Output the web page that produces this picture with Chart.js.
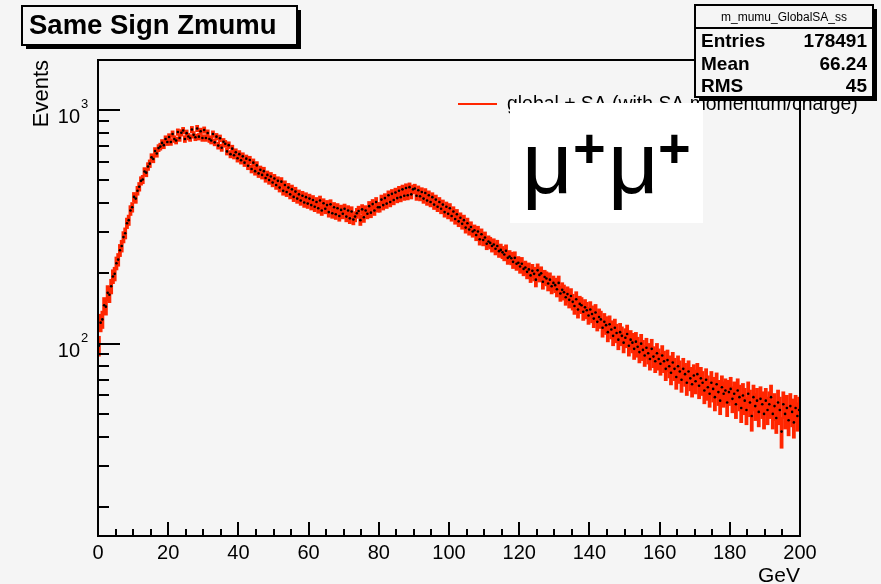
<!DOCTYPE html>
<html>
<head>
<meta charset="utf-8">
<script src="https://cdn.jsdelivr.net/npm/chart.js@4.4.1/dist/chart.umd.min.js"></script>
<style>
  html, body { margin: 0; padding: 0; background: #f5f5f5; }
  canvas { display: block; }
</style>
</head>
<body>
<canvas id="zmumu" width="881" height="584"></canvas>
<script>
// histogram m_mumu_GlobalSA_ss : 400 bins of 0.5 GeV from 0 to 200
const binWidth = 0.5;
const counts = [
  98, 123, 127, 146, 144, 165, 162, 176, 194, 199, 221, 229, 251, 262, 286, 297, 328, 338, 372, 384,
  425, 418, 452, 470, 498, 505, 546, 540, 574, 590, 628, 618, 668, 652, 688, 698, 724, 708, 752, 730,
  768, 731, 790, 752, 741, 806, 760, 800, 818, 752, 797, 771, 760, 826, 784, 765, 835, 770, 812, 760,
  822, 760, 798, 752, 741, 790, 728, 770, 705, 758, 690, 732, 718, 666, 708, 648, 684, 641, 660, 622,
  648, 610, 634, 596, 620, 578, 612, 560, 596, 548, 580, 536, 555, 528, 548, 512, 528, 502, 520, 490,
  510, 478, 498, 466, 494, 452, 478, 446, 466, 436, 458, 425, 448, 418, 436, 410, 430, 402, 424, 398,
  418, 392, 412, 386, 404, 380, 410, 372, 399, 378, 392, 366, 395, 362, 384, 358, 380, 352, 374, 360,
  378, 350, 372, 344, 368, 340, 350, 362, 370, 338, 376, 348, 372, 360, 388, 364, 396, 372, 404, 384,
  384, 414, 392, 420, 398, 432, 404, 438, 412, 444, 420, 452, 424, 458, 430, 464, 432, 468, 436, 458,
  462, 430, 454, 428, 446, 418, 442, 410, 432, 404, 424, 394, 414, 386, 404, 378, 394, 366, 386, 360,
  380, 352, 368, 342, 358, 334, 346, 326, 338, 314, 328, 308, 316, 302, 306, 292, 302, 280, 294, 278,
  285, 268, 274, 270, 262, 266, 255, 262, 249, 252, 246, 241, 250, 233, 236, 232, 224, 233, 220, 222,
  214, 220, 209, 212, 203, 208, 196, 205, 199, 188, 206, 197, 200, 184, 193, 190, 181, 188, 176, 182,
  178, 171, 182, 164, 170, 166, 158, 163, 154, 160, 151, 145, 155, 140, 148, 146, 137, 143, 139, 132,
  140, 134, 128, 136, 124, 130, 127, 117, 124, 120, 112, 121, 115, 108, 117, 111, 104, 112, 108, 101,
  106, 110, 98, 104, 101, 95, 102, 97, 92, 100, 94, 89, 96, 91, 86, 95, 88, 84, 91, 86,
  82, 89, 84, 78, 85, 80, 75, 83, 78, 72, 80, 76, 70, 78, 74, 68, 76, 71, 67, 73,
  69, 74, 66, 71, 68, 63, 70, 65, 61, 68, 64, 59, 67, 62, 57, 65, 61, 63, 56, 62,
  64, 58, 61, 55, 63, 59, 53, 60, 57, 52, 61, 56, 49, 59, 54, 57, 51, 58, 55, 50,
  57, 52, 55, 59, 50, 54, 48, 56, 52, 42, 55, 50, 53, 47, 54, 51, 46, 53, 49, 52
];
const centers = counts.map((c, i) => (i + 0.5) * binWidth);

const xMajorTicks = [0, 20, 40, 60, 80, 100, 120, 140, 160, 180, 200];
const xMinorStep = 5;
const yMajorTicks = [100, 1000];
const yMajorLabels = [['10', '2'], ['10', '3']];
const yMinorTicks = [20, 30, 40, 50, 60, 70, 80, 90, 200, 300, 400, 500, 600, 700, 800, 900];

const statsTitle = 'm_mumu_GlobalSA_ss';
const statsNames = ['Entries', 'Mean', 'RMS'];
const statsValues = ['178491', '66.24', '45'];
const legendText = 'global + SA (with SA momentum/charge)';

const RED = 'rgb(255, 38, 0)';
const BG = '#f5f5f5';
const FONT = '"Liberation Sans", Arial, sans-serif';

function shadowBox(ctx, x, y, w, h, fill) {
    ctx.fillStyle = '#000';
    ctx.fillRect(x + 4, y + 4, w, h);
    ctx.fillStyle = fill;
    ctx.fillRect(x, y, w, h);
    ctx.lineWidth = 2;
    ctx.strokeStyle = '#000';
    ctx.strokeRect(x, y, w, h);
}

const background = {
    id: 'background',
    beforeDraw(chart) {
        const ctx = chart.ctx;
        ctx.save();
        ctx.fillStyle = BG;
        ctx.fillRect(0, 0, chart.width, chart.height);
        ctx.restore();
    }
};

const errorBars = {
    id: 'errorBars',
    beforeDatasetsDraw(chart) {
        const {ctx, chartArea, scales: {x, y}} = chart;
        ctx.save();
        ctx.beginPath();
        ctx.rect(chartArea.left, chartArea.top, chartArea.width, chartArea.height);
        ctx.clip();
        ctx.strokeStyle = RED;
        counts.forEach((n, i) => {
            const c = centers[i];
            const e = Math.sqrt(n);
            const px = x.getPixelForValue(c);
            const py = y.getPixelForValue(n);
            ctx.lineWidth = 3.8;
            ctx.beginPath();
            ctx.moveTo(px, y.getPixelForValue(n + e));
            ctx.lineTo(px, y.getPixelForValue(n - e));
            ctx.stroke();
            ctx.lineWidth = 3;
            ctx.beginPath();
            ctx.moveTo(x.getPixelForValue(c - binWidth / 2), py);
            ctx.lineTo(x.getPixelForValue(c + binWidth / 2), py);
            ctx.stroke();
        });
        ctx.restore();
    }
};

const rootFrame = {
    id: 'rootFrame',
    afterDraw(chart) {
        const {ctx, chartArea: a, scales: {x, y}} = chart;
        ctx.save();
        ctx.strokeStyle = '#000';
        ctx.fillStyle = '#000';

        // frame
        ctx.lineWidth = 2;
        ctx.strokeRect(a.left, a.top, a.right - a.left, a.bottom - a.top);

        // x ticks (inside the frame)
        ctx.beginPath();
        for (let v = 0; v <= 200; v += xMinorStep) {
            const px = Math.round(x.getPixelForValue(v));
            const len = xMajorTicks.includes(v) ? 14 : 7;
            ctx.moveTo(px, a.bottom);
            ctx.lineTo(px, a.bottom - len);
        }
        // y ticks
        yMajorTicks.forEach(v => {
            const py = Math.round(y.getPixelForValue(v));
            ctx.moveTo(a.left, py);
            ctx.lineTo(a.left + 22, py);
        });
        yMinorTicks.forEach(v => {
            const py = Math.round(y.getPixelForValue(v));
            ctx.moveTo(a.left, py);
            ctx.lineTo(a.left + 11, py);
        });
        ctx.stroke();

        // x labels
        ctx.font = '20px ' + FONT;
        ctx.textAlign = 'center';
        ctx.textBaseline = 'alphabetic';
        xMajorTicks.forEach(v => {
            ctx.fillText(String(v), x.getPixelForValue(v), 559);
        });
        ctx.textAlign = 'right';
        ctx.font = '21px ' + FONT;
        ctx.fillText('GeV', a.right, 582);

        // y labels
        yMajorTicks.forEach((v, i) => {
            const py = y.getPixelForValue(v);
            ctx.font = '20px ' + FONT;
            ctx.textAlign = 'right';
            ctx.fillText(yMajorLabels[i][0], 80, py + 13);
            ctx.font = '13px ' + FONT;
            ctx.textAlign = 'left';
            ctx.fillText(yMajorLabels[i][1], 81, py - 2);
        });

        // y title
        ctx.save();
        ctx.translate(48, 60);
        ctx.rotate(-Math.PI / 2);
        ctx.font = '22px ' + FONT;
        ctx.textAlign = 'right';
        ctx.fillText('Events', 0, 0);
        ctx.restore();

        // legend
        ctx.strokeStyle = RED;
        ctx.lineWidth = 2;
        ctx.beginPath();
        ctx.moveTo(458, 104);
        ctx.lineTo(497, 104);
        ctx.stroke();
        ctx.fillStyle = '#000';
        ctx.font = '19.4px ' + FONT;
        ctx.textAlign = 'left';
        ctx.fillText(legendText, 507, 110);

        // stats box
        shadowBox(ctx, 695, 5, 178, 92, BG);
        ctx.lineWidth = 2;
        ctx.beginPath();
        ctx.moveTo(695, 28);
        ctx.lineTo(873, 28);
        ctx.stroke();
        ctx.fillStyle = '#000';
        ctx.font = '12px ' + FONT;
        ctx.textAlign = 'center';
        ctx.fillText(statsTitle, 784, 21);
        ctx.font = 'bold 19px ' + FONT;
        statsNames.forEach((name, i) => {
            const base = 47 + i * 22.5;
            ctx.textAlign = 'left';
            ctx.fillText(name, 701, base);
            ctx.textAlign = 'right';
            ctx.fillText(statsValues[i], 867, base);
        });

        // title box
        shadowBox(ctx, 22, 6, 275, 39, BG);
        ctx.fillStyle = '#000';
        ctx.font = 'bold 27.5px ' + FONT;
        ctx.textAlign = 'left';
        ctx.fillText('Same Sign Zmumu', 29, 34);

        // mu+mu+ label
        ctx.fillStyle = '#fff';
        ctx.fillRect(510, 103, 193, 120);
        ctx.fillStyle = '#000';
        ctx.font = '88px ' + FONT;
        ctx.fillText('\u03bc', 522, 193);
        ctx.fillText('\u03bc', 608, 193);
        ctx.font = 'bold 56px ' + FONT;
        ctx.fillText('+', 573, 167);
        ctx.fillText('+', 658, 167);

        ctx.restore();
    }
};

new Chart(document.getElementById('zmumu').getContext('2d'), {
    type: 'scatter',
    data: {
        datasets: [{
            label: legendText,
            data: centers.map((c, i) => ({x: c, y: counts[i]})),
            pointRadius: 1.3,
            pointBackgroundColor: '#000',
            pointBorderWidth: 0,
            showLine: false
        }]
    },
    options: {
        responsive: false,
        animation: false,
        devicePixelRatio: 1,
        layout: {padding: {left: 98, right: 81, top: 60, bottom: 48}},
        scales: {
            x: {type: 'linear', min: 0, max: 200, display: false},
            y: {type: 'logarithmic', min: 15, max: 1640, display: false}
        },
        plugins: {
            legend: {display: false},
            tooltip: {enabled: false}
        }
    },
    plugins: [background, errorBars, rootFrame]
});
</script>
</body>
</html>
